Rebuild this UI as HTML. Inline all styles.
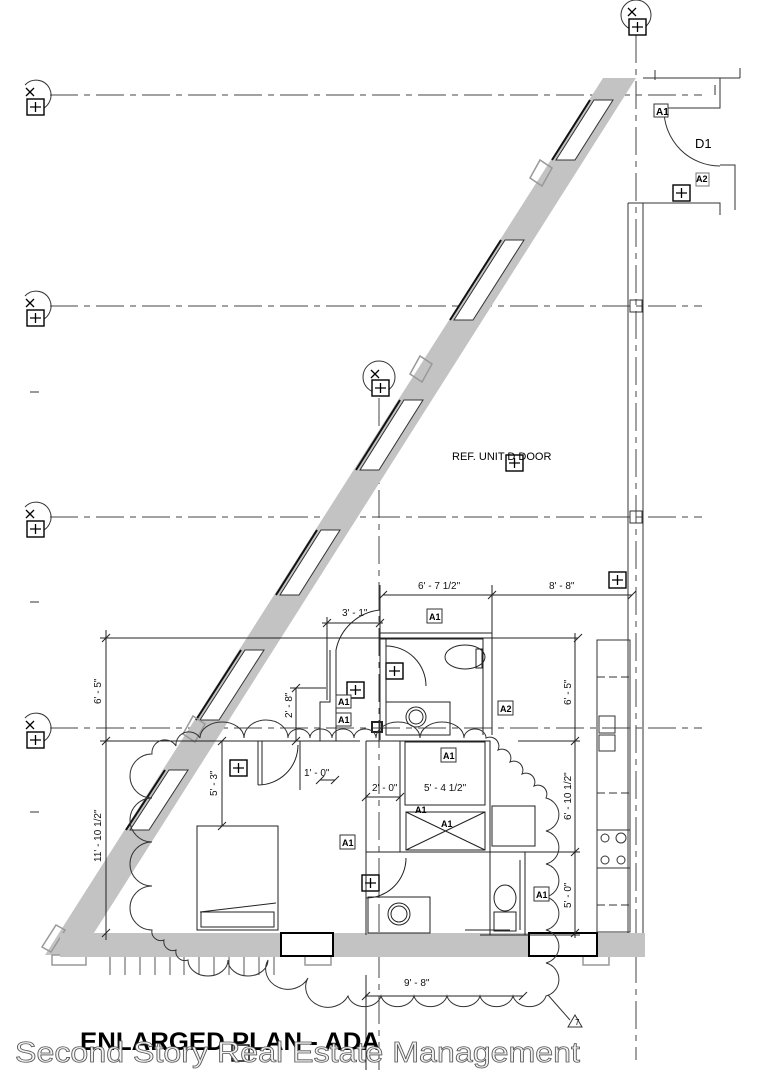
<!DOCTYPE html>
<html><head><meta charset="utf-8"><style>
html,body{margin:0;padding:0;background:#fff;}
svg{display:block;}
text{font-family:"Liberation Sans",sans-serif;}
</style></head><body>
<svg width="784" height="1080" viewBox="0 0 784 1080" xmlns="http://www.w3.org/2000/svg">
<rect width="784" height="1080" fill="#fff"/>
<g stroke="#444" stroke-width="1" stroke-dasharray="28,6,6,6" fill="none">
<line x1="50" y1="95" x2="702" y2="95"/>
<line x1="50" y1="306" x2="702" y2="306"/>
<line x1="50" y1="517" x2="702" y2="517"/>
<line x1="50" y1="728" x2="702" y2="728"/>
<line x1="636" y1="35" x2="636" y2="1060"/>
<line x1="379" y1="398" x2="379" y2="1070"/>
</g>
<g stroke="#555" stroke-width="1.2"><line x1="30" y1="392" x2="39" y2="392"/><line x1="30" y1="602" x2="39" y2="602"/><line x1="30" y1="812" x2="39" y2="812"/></g>
<g fill="none" stroke="#333" stroke-width="1">
<path d="M25,85 A15,15 0 1 1 38,110"/><path d="M25,296 A15,15 0 1 1 38,321"/><path d="M25,507 A15,15 0 1 1 38,532"/><path d="M25,718 A15,15 0 1 1 38,743"/>
<circle cx="379" cy="377" r="16"/><circle cx="636" cy="15" r="15"/>
</g>
<g fill="#fff" stroke="#000" stroke-width="1.4">
<rect x="27" y="99" width="17" height="16"/><rect x="27" y="310" width="17" height="16"/><rect x="27" y="521" width="17" height="16"/><rect x="27" y="732" width="17" height="16"/>
<rect x="372" y="380" width="17" height="16"/><rect x="629" y="19" width="17" height="16"/>
<rect x="506" y="455" width="17" height="16"/><rect x="609" y="572" width="17" height="16"/><rect x="673" y="185" width="17" height="16"/>
<rect x="230" y="760" width="17" height="16"/><rect x="347" y="682" width="17" height="16"/><rect x="386" y="663" width="17" height="16"/><rect x="362" y="875" width="17" height="16"/><rect x="232" y="1045" width="17" height="16"/>
</g>
<g stroke="#000" stroke-width="1.3">
<path d="M35.5,102v10M30,107h11M35.5,313v10M30,318h11M35.5,524v10M30,529h11M35.5,735v10M30,740h11M380.5,383v10M375,388h11M637.5,22v10M632,27h11M514.5,458v10M509,463h11M617.5,575v10M612,580h11M681.5,188v10M676,193h11M238.5,763v10M233,768h11M355.5,685v10M350,690h11M394.5,666v10M389,671h11M370.5,878v10M365,883h11"/>
<path d="M26,88l8,8M34,88l-8,8" /><path d="M26,299l8,8M34,299l-8,8"/><path d="M26,510l8,8M34,510l-8,8"/><path d="M26,721l8,8M34,721l-8,8"/><path d="M371,370l8,8M379,370l-8,8"/><path d="M628,8l8,8M636,8l-8,8"/>
</g>
<polygon points="603,78 636,78 80,955 45,955" fill="#c3c3c3"/>
<g fill="#fff" stroke="#333" stroke-width="1">
<polygon points="594,100 613,100 575,160 556,160"/>
<polygon points="505,240 524,240 473,320 454,320"/>
<polygon points="404,400 423,400 379,470 360,470"/>
<polygon points="321,530 340,530 299,595 280,595"/>
<polygon points="245,650 264,650 219,720 200,720"/>
<polygon points="169,770 188,770 149,830 130,830"/>
</g>
<g stroke="#111" stroke-width="2">
<line x1="590" y1="100" x2="552" y2="160"/><line x1="501" y1="240" x2="450" y2="320"/><line x1="400" y1="400" x2="356" y2="470"/><line x1="317" y1="530" x2="276" y2="595"/><line x1="241" y1="650" x2="196" y2="720"/><line x1="165" y1="770" x2="126" y2="830"/>
</g>
<g fill="none" stroke="#999" stroke-width="1.5">
<path d="M540,160 l-10,18 l12,8 l10,-18z"/><path d="M420,356 l-10,18 l12,8 l10,-18z"/><path d="M193,716 l-10,18 l12,8 l10,-18z"/><path d="M56,925 l-14,22 l9,5 l14,-22z"/>
<rect x="52" y="955" width="34" height="10"/><rect x="305" y="955" width="26" height="10"/><rect x="583" y="955" width="26" height="10"/>
</g>
<rect x="60" y="933" width="585" height="24" fill="#c3c3c3"/>
<rect x="281" y="933" width="52" height="23" fill="#fff" stroke="#000" stroke-width="2"/>
<rect x="529" y="933" width="68" height="23" fill="#fff" stroke="#000" stroke-width="2"/>
<g stroke="#555" stroke-width="1">
<path d="M110,957v18M125,957v18M140,957v18M155,957v18M170,957v18M184,957v18M199,957v18M214,957v18M229,957v18M244,957v18M259,957v18M274,957v18"/>
</g>
<g stroke="#333" stroke-width="1" fill="none">
<path d="M628,203V933M643,203V933M628,203H720V215M643,78H740M720,78V108H660M720,165H735V210M655,80v-10M740,78v-10M715,95v-10"/>
<path d="M664,110 A56,56 0 0 0 720,166"/>
<rect x="630" y="300" width="12" height="12"/><rect x="630" y="511" width="12" height="12"/>
</g>
<rect x="654" y="104" width="14" height="13" fill="#fff" stroke="#333"/><text x="656" y="115" font-size="10" font-weight="bold">A1</text>
<rect x="696" y="173" width="13" height="13" fill="#fff" stroke="#777"/><text x="696" y="182" font-size="9" font-weight="bold">A2</text>
<text x="695" y="148" font-size="13">D1</text>
<text x="452" y="460" font-size="11">REF. UNIT D DOOR</text>
<g stroke="#333" stroke-width="1" fill="none">
<rect x="597" y="640" width="33" height="292"/>
<path d="M597,677h33M597,793h33M597,905h33" stroke-dasharray="8,4"/>
<rect x="599" y="716" width="16" height="17"/><rect x="599" y="735" width="16" height="16"/>
<rect x="597" y="830" width="33" height="38"/>
<circle cx="605" cy="838" r="4"/><circle cx="621" cy="838" r="5"/><circle cx="605" cy="860" r="4"/><circle cx="621" cy="860" r="4"/>
</g>
<g stroke="#222" stroke-width="1" fill="none">
<path d="M106,630V940M100,638H578M100,741H300M383,595H632M380,585V640M492,585V640M327,617V700M322,623H383M296,688V741M290,688H326M575,633V938M518,741H580M518,852H580M480,935H580M222,741V826M366,797H400M320,780H335M365,996H523M366,975V1070"/>
<path d="M102,642l8,-8M102,745l8,-8M102,937l8,-8M574,642l8,-8M379,599l8,-8M488,599l8,-8M628,599l8,-8M323,627l8,-8M376,627l8,-8M292,692l8,-8M292,745l8,-8M571,745l8,-8M571,856l8,-8M571,937l8,-8M218,745l8,-8M218,830l8,-8M362,1000l8,-8M519,1000l8,-8M362,801l8,-8M396,801l8,-8M316,784l8,-8M331,784l8,-8"/>
</g>
<g font-size="10" fill="#111">
<text x="418" y="589">6' - 7 1/2"</text><text x="549" y="589">8' - 8"</text><text x="342" y="616">3' - 1"</text>
<text x="304" y="776">1' - 0"</text><text x="372" y="791">2' - 0"</text><text x="424" y="791">5' - 4 1/2"</text>
<text x="404" y="986">9' - 8"</text>
<text transform="translate(101,704) rotate(-90)">6' - 5"</text>
<text transform="translate(101,862) rotate(-90)">11' - 10 1/2"</text>
<text transform="translate(217,796) rotate(-90)">5' - 3"</text>
<text transform="translate(292,718) rotate(-90)">2' - 8"</text>
<text transform="translate(571,705) rotate(-90)">6' - 5"</text>
<text transform="translate(571,820) rotate(-90)">6' - 10 1/2"</text>
<text transform="translate(571,908) rotate(-90)">5' - 0"</text>
</g>
<g stroke="#222" stroke-width="1" fill="none">
<path d="M380,633H492V735M380,639H483V735M386,639V735"/>
<path d="M222,741H258V785M262,741V785M300,741H360M300,741V790M366,741V852H400V741M405,742H485V805H405z M366,741H490V935"/>
<rect x="406" y="812" width="79" height="38"/><path d="M406,812L485,850M485,812L406,850"/>
<rect x="492" y="806" width="43" height="40"/>
<path d="M366,852H525V935M366,852V935"/>
<rect x="368" y="897" width="62" height="36"/><circle cx="399" cy="914" r="11"/><circle cx="399" cy="914" r="8"/>
<rect x="386" y="702" width="64" height="33"/><circle cx="416" cy="717" r="10"/><circle cx="416" cy="717" r="7"/>
<ellipse cx="465" cy="657" rx="20" ry="12"/><rect x="476" y="649" width="6" height="19"/>
<ellipse cx="505" cy="898" rx="11" ry="13"/><rect x="494" y="912" width="22" height="19"/><path d="M465,930H510"/>
<path d="M330,650V702H320V741M336,650V741M380,640V740"/>
<path d="M336,650 A50,50 0 0 1 380,610"/><path d="M386,646 A40,40 0 0 1 426,686"/>
<path d="M258,785 A40,40 0 0 0 298,745"/><path d="M366,898 A40,40 0 0 0 406,858"/>
<rect x="197" y="826" width="81" height="104"/><path d="M200,912L276,903"/><rect x="201" y="912" width="73" height="15"/>
<rect x="372" y="722" width="10" height="10" stroke-width="2"/>
<path d="M520,860V930"/>
</g>
<g stroke="#333" stroke-width="1" fill="none">
<path d="M200,738 a22,16 0 0 1 44,0 a22,18 0 0 1 44,0 a11,9 0 0 1 22,0 a11,9 0 0 1 22,0 a11,9 0 0 1 22,0 a11,9 0 0 1 22,0 a22,16 0 0 1 44,0 a22,16 0 0 1 44,0 a11,9 0 0 1 22,0
 a9,9 0 0 1 12,12 a9,9 0 0 1 12,12 a9,9 0 0 1 12,12 a9,9 0 0 1 12,12 a9,9 0 0 1 12,12
 a17,17 0 0 1 0,33 a17,17 0 0 1 0,33 a17,17 0 0 1 0,33 a17,17 0 0 1 0,33 a17,17 0 0 1 0,33 a17,17 0 0 1 0,33
 a17,14 0 0 1 -33,0 a17,14 0 0 1 -33,0 a17,14 0 0 1 -33,0 a17,14 0 0 1 -33,0 a17,14 0 0 1 -33,0 a17,14 0 0 1 -33,0
 a22,20 0 0 1 -40,-18 a22,20 0 0 1 -40,-18
 a20,16 0 0 1 -40,0 a20,16 0 0 1 -40,0
 a9,9 0 0 1 -12,-10 a9,9 0 0 1 -12,-10 a9,9 0 0 1 -12,-10
 a22,22 0 0 1 0,-44 a22,22 0 0 1 0,-44 a22,22 0 0 1 0,-44 a22,22 0 0 1 0,-44
 a13,13 0 0 1 24,-8 a13,13 0 0 1 24,-8"/>
<path d="M548,995 L570,1020"/><path d="M568,1027 l7,-12 l7,12z"/>
</g>
<g font-size="9" font-weight="bold">
<rect x="427" y="609" width="15" height="14" fill="#fff" stroke="#333"/><text x="429" y="620">A1</text>
<rect x="498" y="701" width="15" height="14" fill="#fff" stroke="#333"/><text x="500" y="712">A2</text>
<rect x="441" y="748" width="15" height="14" fill="#fff" stroke="#333"/><text x="443" y="759">A1</text>
<rect x="336" y="695" width="15" height="13" fill="#fff" stroke="#333"/><text x="338" y="705">A1</text>
<rect x="336" y="713" width="15" height="13" fill="#fff" stroke="#333"/><text x="338" y="723">A1</text>
<rect x="340" y="835" width="15" height="14" fill="#fff" stroke="#333"/><text x="342" y="846">A1</text>
<rect x="534" y="887" width="15" height="14" fill="#fff" stroke="#333"/><text x="536" y="898">A1</text>
<text x="415" y="813">A1</text><text x="441" y="827">A1</text>
</g>
<text x="575" y="1025" font-size="8">7</text>
<text x="80" y="1050" font-size="25" font-weight="bold" textLength="300" lengthAdjust="spacingAndGlyphs">ENLARGED PLAN - ADA</text>
<text x="15" y="1062" font-size="29" fill="#f2f2f2" stroke="#555" stroke-width="0.8" textLength="565" lengthAdjust="spacingAndGlyphs">Second Story Real Estate Management</text>
</svg>
</body></html>
